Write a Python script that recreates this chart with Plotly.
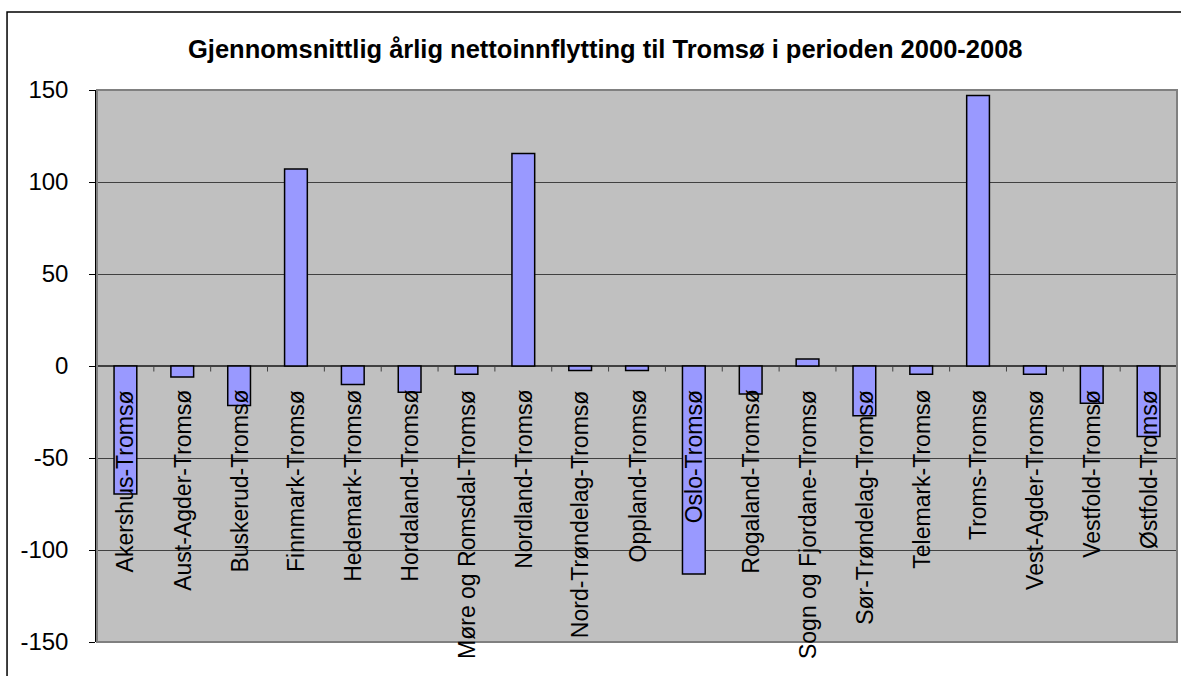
import plotly.graph_objects as go

categories = ["Akershus-Tromsø", "Aust-Agder-Tromsø", "Buskerud-Tromsø", "Finnmark-Tromsø",
              "Hedemark-Tromsø", "Hordaland-Tromsø", "Møre og Romsdal-Tromsø", "Nordland-Tromsø",
              "Nord-Trøndelag-Tromsø", "Oppland-Tromsø", "Oslo-Tromsø", "Rogaland-Tromsø",
              "Sogn og Fjordane-Tromsø", "Sør-Trøndelag-Tromsø", "Telemark-Tromsø", "Troms-Tromsø",
              "Vest-Agder-Tromsø", "Vestfold-Tromsø", "Østfold-Tromsø"]
values = [-69.5, -6, -21.5, 107, -10, -14.3, -4.5, 115.5, -2.5, -2.5, -113, -15.2, 3.8,
          -27, -4.5, 147, -4.5, -20.3, -38.3]
y_ticks = [-150, -100, -50, 0, 50, 100, 150]
title_text = "Gjennomsnittlig årlig nettoinnflytting til Tromsø i perioden 2000-2008"

FONT = "Liberation Sans, Arial, sans-serif"

fig = go.Figure()
fig.add_trace(go.Bar(
    x=list(range(len(categories))), y=values, width=0.4,
    marker=dict(color="#9999FF", line=dict(color="black", width=1.5)),
))

annotations = []
for i, c in enumerate(categories):
    annotations.append(dict(x=i, y=0, xref="x", yref="y", text=c, showarrow=False,
                            textangle=-90, xanchor="center", yanchor="top", yshift=-22,
                            font=dict(family=FONT, size=23, color="black")))
annotations.append(dict(x=0.471, y=1.074, xref="paper", yref="paper", text="<b>" + title_text + "</b>",
                        showarrow=False, xanchor="center", yanchor="middle",
                        font=dict(family=FONT, size=25.5, color="black")))

shapes = [
    dict(type="rect", xref="paper", yref="paper", x0=-0.0833, y0=-0.2, x1=1.05, y1=1.1413,
         line=dict(color="black", width=1.5), fillcolor="rgba(0,0,0,0)", layer="below"),
    dict(type="rect", xref="paper", yref="paper", x0=0, y0=0, x1=1, y1=1,
         line=dict(color="#808080", width=2), fillcolor="rgba(0,0,0,0)", layer="above"),
]
for k in range(1, len(categories)):
    shapes.append(dict(type="line", xref="x", yref="y", x0=k - 0.5, x1=k - 0.5, y0=0, y1=-3,
                       line=dict(color="#404040", width=1)))

fig.update_layout(
    width=1181, height=676,
    margin=dict(l=97, r=4, t=90, b=34),
    paper_bgcolor="white", plot_bgcolor="#C0C0C0",
    showlegend=False, bargap=0.6,
    annotations=annotations, shapes=shapes,
    font=dict(family=FONT, color="black"),
)
fig.update_xaxes(range=[-0.5, len(categories) - 0.5], showticklabels=False, showgrid=False,
                 zeroline=False, ticks="", showline=False, fixedrange=True)
fig.update_yaxes(range=[-150, 150], tickvals=y_ticks, ticktext=[str(v) for v in y_ticks],
                 showgrid=True, gridcolor="#404040", gridwidth=1,
                 zeroline=True, zerolinecolor="#404040", zerolinewidth=1.5,
                 ticks="outside", ticklen=6, tickcolor="black", ticklabelstandoff=16,
                 showline=True, linecolor="black", linewidth=1.5, fixedrange=True,
                 tickfont=dict(family=FONT, size=24, color="black"))

fig.write_html("out.html", config={"displayModeBar": False},
               post_script="document.body.style.margin='0';document.body.style.overflow='hidden';")
